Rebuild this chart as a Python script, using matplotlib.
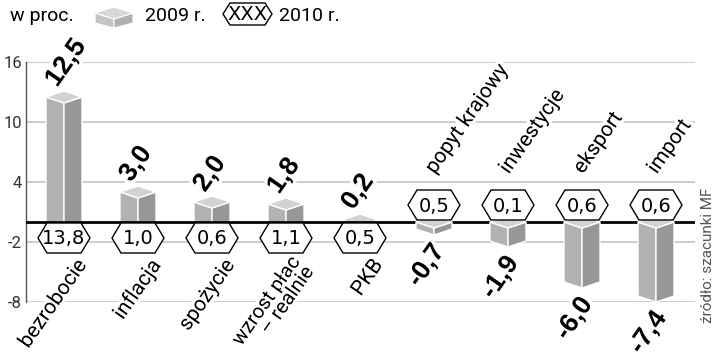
import matplotlib
matplotlib.use('Agg')
import matplotlib.pyplot as plt
import matplotlib.patheffects as pe
from matplotlib.patches import Polygon

plt.rcParams['font.family'] = ['Roboto', 'DejaVu Sans']

# data
categories = ['bezrobocie', 'inflacja', 'spożycie', 'wzrost płac\n– realnie', 'PKB',
              'popyt krajowy', 'inwestycje', 'eksport', 'import']
vals_2009 = [12.5, 3.0, 2.0, 1.8, 0.2, -0.7, -1.9, -6.0, -7.4]
vals_2010 = [13.8, 1.0, 0.6, 1.1, 0.5, 0.5, 0.1, 0.6, 0.6]
yticks = [-8, -2, 4, 10, 16]


def fmt(v):
    return f'{v:.1f}'.replace('.', ',')


fig = plt.figure(figsize=(7.2, 3.64), dpi=100)
ax = fig.add_axes([26 / 720, 62 / 364, 669 / 720, 240 / 364])

# px -> data units
XPX = 74.0
hw = 18 / XPX      # half bar width
d = 0.6            # depth of top face
hex_hw = 26 / XPX
hex_tip = 9 / XPX
hex_hh = 1.5

c_left, c_right, c_top = '#b2b2b2', '#979797', '#d2d2d2'
halo = [pe.withStroke(linewidth=5, foreground='white')]
valfont = ['Liberation Sans', 'DejaVu Sans']

for i, (v, v2, cat) in enumerate(zip(vals_2009, vals_2010, categories)):
    c = i
    if v >= 0:
        front = max(v - d, 0)
        left = [(c - hw, 0), (c - hw, v), (c, front), (c, 0)]
        right = [(c, 0), (c, front), (c + hw, v), (c + hw, 0)]
        top = [(c - hw, v), (c, v + d), (c + hw, v), (c, v - d)]
        z = 2
    else:
        left = [(c - hw, 0), (c - hw, v), (c, v - d), (c, -d)]
        right = [(c, -d), (c, v - d), (c + hw, v), (c + hw, 0)]
        top = [(c - hw, 0), (c, d), (c + hw, 0), (c, -d)]
        z = 4
    for pts, col in ((left, c_left), (right, c_right), (top, c_top)):
        ax.add_patch(Polygon(pts, closed=True, facecolor=col, edgecolor='white',
                             lw=1, zorder=z))

    # 2010 hexagon
    hy = -1.6 if v >= 0 else 1.7
    hexpts = [(c - hex_hw, hy), (c - hex_hw + hex_tip, hy + hex_hh),
              (c + hex_hw - hex_tip, hy + hex_hh), (c + hex_hw, hy),
              (c + hex_hw - hex_tip, hy - hex_hh), (c - hex_hw + hex_tip, hy - hex_hh)]
    ax.add_patch(Polygon(hexpts, closed=True, facecolor='white', edgecolor='black',
                         lw=1, zorder=5))
    ax.text(c, hy - 0.1, fmt(v2), ha='center', va='center', fontsize=14,
            family=['Liberation Sans Narrow', 'DejaVu Sans'], zorder=6)

    # 2009 value label + category
    if v >= 0:
        ax.text(c - 7 / XPX, v + 0.9, fmt(v), rotation=55, rotation_mode='anchor',
                ha='left', va='baseline', fontsize=19, fontweight='bold',
                family=valfont, zorder=6, path_effects=halo)
        two = '\n' in cat
        ax.text(c + (2 if two else 11) / XPX, -3.15 if two else -3.4, cat,
                rotation=55, rotation_mode='anchor',
                ha='right', va='top', multialignment='right',
                fontsize=14.5 if two else 15,
                zorder=6, linespacing=0.85, path_effects=halo)
    else:
        ax.text(c + 11 / XPX, v - 2.2, fmt(v), rotation=55, rotation_mode='anchor',
                ha='right', va='baseline', fontsize=19, fontweight='bold',
                family=valfont, zorder=6, path_effects=halo)
        ax.text(c + 4 / XPX, 4.5, cat, rotation=55, rotation_mode='anchor',
                ha='left', va='bottom', fontsize=15, zorder=6, path_effects=halo)

ax.axhline(0, color='black', lw=2, zorder=3)
ax.set_xlim(-38 / XPX, 631 / XPX)
ax.set_ylim(-8, 16)
ax.set_yticks(yticks)
ax.set_yticklabels([str(t) for t in yticks], fontsize=12, color='#333333')
ax.tick_params(axis='y', length=0, pad=3)
ax.set_xticks([])
ax.grid(axis='y', color='#c8c8c8', lw=1.3, zorder=0)
ax.set_axisbelow(True)
for s in ('top', 'right', 'bottom'):
    ax.spines[s].set_visible(False)
ax.spines['left'].set_color('#555555')
ax.spines['left'].set_linewidth(1)

# legend + source in pixel coordinates
ov = fig.add_axes([0, 0, 1, 1], facecolor='none')
ov.set_xlim(0, 720)
ov.set_ylim(364, 0)
ov.axis('off')
ov.text(10, 16, 'w proc.', ha='left', va='center', fontsize=14)
ov.add_patch(Polygon([(95, 13), (114, 19), (114, 28), (95, 23)], facecolor='#c4c4c4', edgecolor='white', lw=0.8))
ov.add_patch(Polygon([(114, 19), (133, 13), (133, 23), (114, 28)], facecolor='#b0b0b0', edgecolor='white', lw=0.8))
ov.add_patch(Polygon([(95, 13), (114, 7), (133, 13), (114, 19)], facecolor='#d8d8d8', edgecolor='white', lw=0.8))
ov.text(145, 16, '2009 r.', ha='left', va='center', fontsize=14)
ov.add_patch(Polygon([(223, 14), (230, 3), (265, 3), (272, 14), (265, 25), (230, 25)],
                     facecolor='white', edgecolor='black', lw=1))
ov.text(247.5, 15, 'XXX', ha='center', va='center', fontsize=14,
        family=['Liberation Sans Narrow', 'DejaVu Sans'])
ov.text(279, 16, '2010 r.', ha='left', va='center', fontsize=14)
ov.text(708, 255, 'źródło: szacunki MF', rotation=90, ha='center', va='center',
        fontsize=11, color='#555555')

fig.savefig('out.png', dpi=100)
